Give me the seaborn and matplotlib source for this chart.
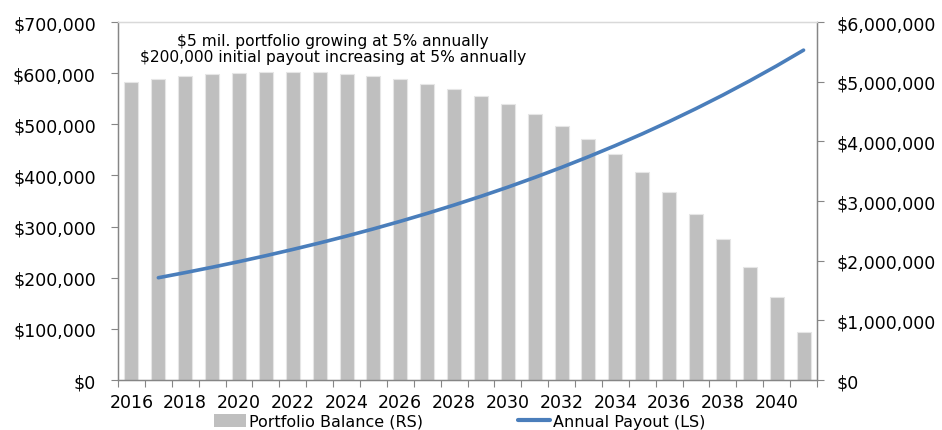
import matplotlib
matplotlib.use("Agg")
import matplotlib.pyplot as plt
import seaborn as sns
import pandas as pd
from matplotlib.patches import Patch
from matplotlib.lines import Line2D
from matplotlib.ticker import FuncFormatter, FixedLocator

# ---- data ----
years = list(range(2016, 2042))
balance_k = [4995, 5050, 5093, 5127, 5152, 5166, 5169, 5160, 5136, 5098,
             5042, 4968, 4875, 4759, 4620, 4455, 4262, 4039, 3782, 3490,
             3159, 2787, 2369, 1902, 1383, 807]
payout_years = list(range(2017, 2042))
payout = [200000, 210000, 220500, 231500, 243100, 255300, 268000, 281400,
          295500, 310300, 325800, 342100, 359200, 377100, 396000, 415800,
          436600, 458400, 481300, 505400, 530700, 557200, 585100, 614300,
          645000]
left_ticks = [0, 100000, 200000, 300000, 400000, 500000, 600000, 700000]
right_ticks = [0, 1000000, 2000000, 3000000, 4000000, 5000000, 6000000]
label_years = list(range(2016, 2041, 2))
title_lines = ["$5 mil. portfolio growing at 5% annually",
               "$200,000 initial payout increasing at 5% annually"]
legend_labels = ["Portfolio Balance (RS)", "Annual Payout (LS)"]

bar_color = "#BFBFBF"
line_color = "#4A7EBB"
spine_color = "#868686"

sns.set_theme(style="white")
plt.rcParams['font.family'] = ['DejaVu Sans']
plt.rcParams['text.color'] = 'black'

fig = plt.figure(figsize=(9.42, 4.31), dpi=100)
ax = fig.add_axes([0.1253, 0.116, 0.742, 0.8306])
ax2 = ax.twinx()

df_bar = pd.DataFrame({"year": years, "balance": [b * 1000 for b in balance_k]})
df_line = pd.DataFrame({"year": payout_years, "payout": payout})

sns.barplot(data=df_bar, x="year", y="balance", ax=ax2, native_scale=True,
            color=bar_color, width=0.52, edgecolor="#E6E6E6", linewidth=0.8,
            saturation=1)
sns.lineplot(data=df_line, x="year", y="payout", ax=ax, color=line_color,
             linewidth=2.6, solid_capstyle="round")

ax.set_zorder(ax2.get_zorder() + 1)
ax.patch.set_visible(False)

ax.set_xlim(years[0] - 0.5, years[-1] + 0.5)
ax.set_ylim(0, 700000)
ax2.set_ylim(0, 6000000)

money = FuncFormatter(lambda v, p: "$" + format(int(v), ","))
ax.set_yticks(left_ticks)
ax.yaxis.set_major_formatter(money)
ax2.set_yticks(right_ticks)
ax2.yaxis.set_major_formatter(money)

ax.set_xticks(label_years)
ax.set_xticklabels([str(y) for y in label_years])
ax.xaxis.set_minor_locator(FixedLocator([y - 0.5 for y in years] + [years[-1] + 0.5]))
ax.tick_params(axis="x", which="major", length=0, pad=9, labelsize=12.5, labelcolor="black")
ax.tick_params(axis="x", which="minor", length=5, width=0.8, color=spine_color, direction="out", bottom=True)
ax.tick_params(axis="y", length=5, width=0.8, color=spine_color, direction="out", left=True,
               labelsize=12.5, pad=11, labelcolor="black")
ax2.tick_params(axis="y", length=5, width=0.8, color=spine_color, direction="out", right=True,
                labelsize=12.5, pad=9, labelcolor="black")
ax2.tick_params(axis="x", length=0)

for a in (ax, ax2):
    a.set_xlabel("")
    a.set_ylabel("")
    for s in ("left", "right", "bottom"):
        a.spines[s].set_color(spine_color)
        a.spines[s].set_linewidth(0.9)
    a.spines["top"].set_color("#D9D9D9")
    a.spines["top"].set_linewidth(0.9)
    a.grid(False)

ax.text(0.3076, 0.925, "\n".join(title_lines), transform=ax.transAxes,
        ha="center", va="center", fontsize=11.2, linespacing=1.1, color="black")

handles = [Patch(facecolor=bar_color, edgecolor="none"),
           Line2D([0], [0], color=line_color, linewidth=3)]
fig.legend(handles, legend_labels, loc="center", bbox_to_anchor=(0.488, 0.02),
           ncol=2, frameon=False, fontsize=11.5, handlelength=2.0,
           handletextpad=0.15, columnspacing=6.0, handleheight=0.9,
           labelcolor="black")

fig.savefig("out.png", dpi=100)
